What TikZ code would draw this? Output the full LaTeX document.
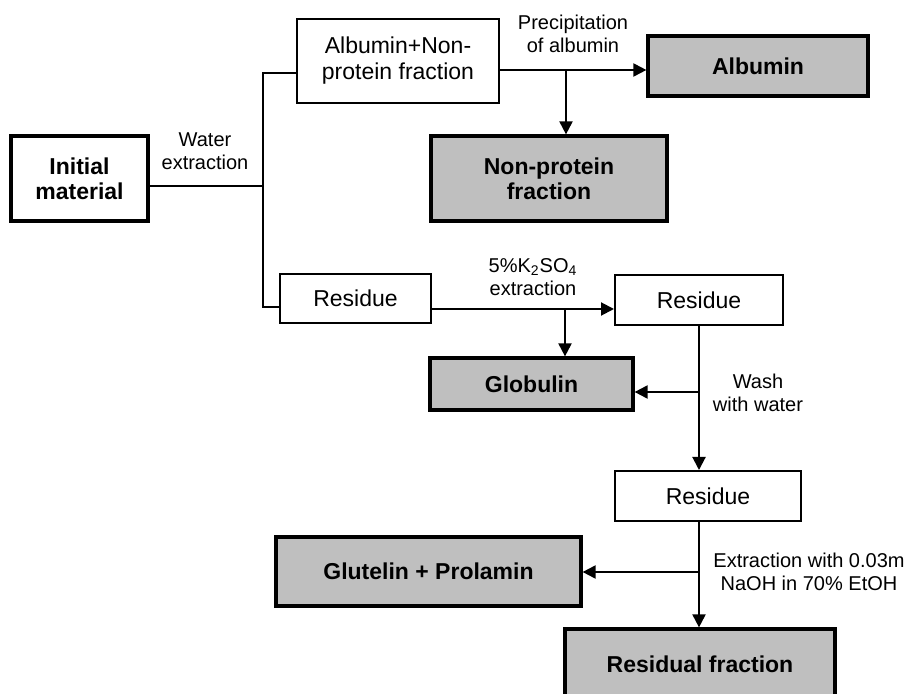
\documentclass[tikz,border=0pt]{standalone}
\usepackage{fontspec}
\setmainfont{Liberation Sans}
\usetikzlibrary{arrows.meta}

\begin{document}
\begin{tikzpicture}[x=0.5pt,y=-0.5pt,
    >={Triangle[length=6.5pt,width=6.5pt]}]
      \useasboundingbox (0,0) rectangle (904,694);
      \clip (0,0) rectangle (904,694);
      \begin{scope}[every node/.style={rectangle,draw,line width=1pt,
          fill=white,inner sep=0pt,align=center,
          font=\fontsize{11.5}{13}\selectfont}]
        \node (albnp) at (398,61) [minimum width=101pt,minimum height=42pt] {Albumin+Non-\\protein fraction};
        \node (res1) at (355.5,298.5) [minimum width=75.5pt,minimum height=24.5pt] {Residue};
        \node (res2) at (699,300) [minimum width=84pt,minimum height=25pt] {Residue};
        \node (res3) at (708,496) [minimum width=93pt,minimum height=25pt] {Residue};
      \end{scope}
      \begin{scope}[every node/.style={rectangle,draw,line width=1.6pt,
          fill=gray!50,inner sep=0pt,align=center,
          font=\fontsize{11.5}{12.5}\selectfont\bfseries}]
        \node[fill=white] (init) at (79.5,178.5) [minimum width=68.5pt,minimum height=42.5pt] {Initial\\material};
        \node (albumin) at (758,66) [minimum width=110pt,minimum height=30pt] {Albumin};
        \node (nonprot) at (549,178.5) [minimum width=118pt,minimum height=42.5pt] {Non-protein\\fraction};
        \node (globulin) at (531.5,384) [minimum width=101.5pt,minimum height=26pt] {Globulin};
        \node (glut) at (428.5,571.5) [minimum width=152.5pt,minimum height=34.5pt] {Glutelin + Prolamin};
        \node (resid) at (700,664) [minimum width=135pt,minimum height=35pt] {Residual fraction};
      \end{scope}
      % step labels
      \begin{scope}[every node/.style={align=center,inner sep=0pt,
          font=\fontsize{10}{11.5}\selectfont}]
        \node (lwater) at (205,151) {Water\\extraction};
        \node (lprec) at (573,34) {Precipitation\\of albumin};
        \node (lksulf) at (533,277) {5\%K\textsubscript{2}SO\textsubscript{4}\\extraction};
        \node (lwash) at (758,393) {Wash\\with water};
        \node (lnaoh) at (809,572) {Extraction with 0.03m\\NaOH in 70\% EtOH};
      \end{scope}
      \coordinate (split) at (263,186);
      \coordinate (jtop) at (263,73);
      \coordinate (jbot) at (263,307);
      \coordinate (prec) at (566,70);
      \coordinate (ksulf) at (565,309);
      \coordinate (wash) at (699,392);
      \coordinate (naoh) at (699,572);
      \begin{scope}[every edge/.style={draw=black,line width=1pt}]
        \path (init.east |- split) edge (split);
        \draw[line width=1pt] (albnp.west |- jtop) -- (jtop) -- (jbot) -- (res1.west |- jbot);
        \path (albnp.east |- prec) edge[->] (albumin.west |- prec);
        \path (prec) edge[->] (prec |- nonprot.north);
        \path (res1.east |- ksulf) edge[->] (res2.west |- ksulf);
        \path (ksulf) edge[->] (ksulf |- globulin.north);
        \path (res2.south -| wash) edge[->] (wash |- res3.north);
        \path (wash) edge[->] (globulin.east |- wash);
        \path (res3.south -| naoh) edge (naoh);
        \path (naoh) edge[->] (naoh |- resid.north);
        \path (naoh) edge[->] (glut.east |- naoh);
      \end{scope}
    \end{tikzpicture}
\end{document}
